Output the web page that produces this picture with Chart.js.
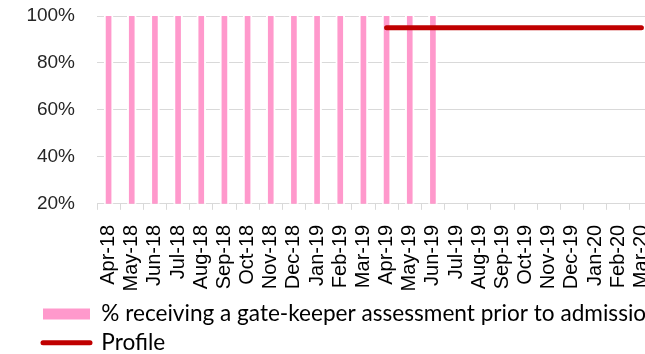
<!DOCTYPE html>
<html>
<head>
<meta charset="utf-8">
<script src="https://cdn.jsdelivr.net/npm/chart.js@4/dist/chart.umd.min.js"></script>
<style>
  html, body { margin: 0; padding: 0; background: #fff; }
  #wrap { width: 645px; height: 354px; overflow: hidden; position: relative; }
  #box { width: 653px; height: 364px; position: absolute; left: 0; top: 0; }
</style>
</head>
<body>
<div id="wrap"><div id="box"><canvas id="c"></canvas></div></div>
<script>
// ---- data ----
const categories = ["Apr-18","May-18","Jun-18","Jul-18","Aug-18","Sep-18","Oct-18","Nov-18","Dec-18","Jan-19","Feb-19","Mar-19","Apr-19","May-19","Jun-19","Jul-19","Aug-19","Sep-19","Oct-19","Nov-19","Dec-19","Jan-20","Feb-20","Mar-20"];
const gateKeeperPct = [100,100,100,100,100,100,100,100,100,100,100,100,100,100,100,null,null,null,null,null,null,null,null,null];
const profilePct = [null,null,null,null,null,null,null,null,null,null,null,null,95,95,95,95,95,95,95,95,95,95,95,95];
const yTicks = [20, 40, 60, 80, 100];
const seriesNames = ["% receiving a gate-keeper assessment prior to admission", "Profile"];

const PINK = '#FF99CC';
const RED = '#C00000';

// shift the legend block to the right (reference legend starts at x≈43)
const legendShift = {
  id: 'legendShift',
  afterLayout(chart) {
    const lg = chart.legend;
    if (lg) { lg.left += 37; lg.right += 37; }
  }
};

new Chart(document.getElementById('c'), {
  type: 'bar',
  data: {
    labels: categories,
    datasets: [
      {
        label: seriesNames[0],
        data: gateKeeperPct,
        backgroundColor: PINK,
        borderColor: '#FFFFFF',
        borderWidth: { left: 2, right: 2, top: 0, bottom: 0 },
        borderSkipped: false,
        barThickness: 9,
        order: 2
      },
      {
        type: 'line',
        label: seriesNames[1],
        data: profilePct,
        borderColor: RED,
        backgroundColor: RED,
        borderWidth: 5,
        borderCapStyle: 'round',
        pointRadius: 0,
        fill: false,
        spanGaps: false,
        order: 1
      }
    ]
  },
  plugins: [legendShift],
  options: {
    responsive: true,
    maintainAspectRatio: false,
    animation: false,
    layout: { padding: { left: 0, top: 16, right: 0, bottom: 0 } },
    plugins: {
      tooltip: { enabled: false },
      legend: {
        position: 'bottom',
        align: 'start',
        labels: {
          usePointStyle: true,
          pointStyleWidth: 47,
          boxHeight: 11,
          padding: 6,
          color: '#262626',
          font: { family: 'Lato', size: 22.6 },
          generateLabels: () => [
            { text: seriesNames[0], fillStyle: PINK, strokeStyle: PINK, lineWidth: 0, pointStyle: 'rect', datasetIndex: 0, hidden: false },
            { text: seriesNames[1], fillStyle: RED, strokeStyle: RED, lineWidth: 5, lineCap: 'round', pointStyle: 'line', datasetIndex: 1, hidden: false }
          ]
        }
      }
    },
    scales: {
      x: {
        offset: true,
        afterFit: (s) => { s.height = 93; s.paddingTop = 0; s.paddingLeft = 0; s.paddingRight = 0; },
        grid: { display: true, drawOnChartArea: false, drawTicks: true, tickLength: 6, color: '#D9D9D9', offset: true },
        border: { display: true, color: '#D9D9D9', width: 1 },
        ticks: {
          autoSkip: false,
          minRotation: 90,
          maxRotation: 90,
          padding: 15,
          color: '#000000',
          font: { family: 'Liberation Sans', size: 20 }
        }
      },
      y: {
        min: 20,
        max: 100,
        afterFit: (s) => { s.width = 97; s.paddingTop = 0; s.paddingBottom = 0; },
        afterBuildTicks: (s) => { s.ticks = yTicks.map(v => ({ value: v })); },
        grid: { color: '#D9D9D9', drawTicks: false, lineWidth: 1 },
        border: { display: false },
        ticks: {
          padding: 22,
          color: '#262626',
          font: { family: 'Liberation Sans', size: 19 },
          callback: (v) => v + '%'
        }
      }
    }
  }
});
</script>
</body>
</html>
